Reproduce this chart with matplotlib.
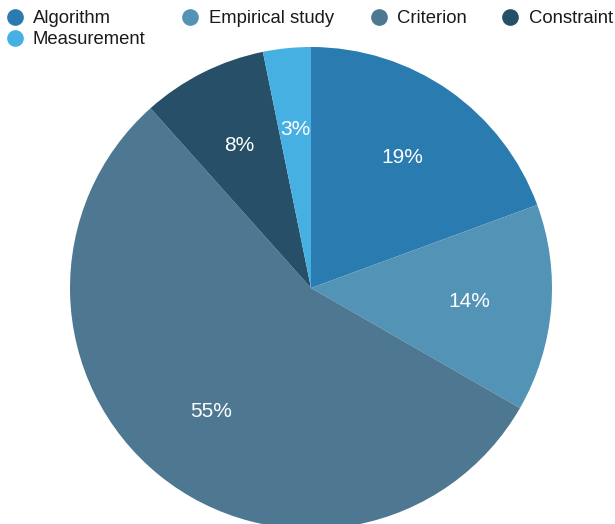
import matplotlib
matplotlib.use("Agg")
import matplotlib.pyplot as plt
from matplotlib.lines import Line2D

categories = ["Algorithm", "Empirical study", "Criterion", "Constraint", "Measurement"]
values = [19.4, 13.9, 55.1, 8.4, 3.2]
colors = ["#2a7bb0", "#5393b5", "#4e7891", "#275068", "#47b0e3"]

plt.rcParams['font.family'] = ['Liberation Sans', 'DejaVu Sans']

W, H = 615, 524
fig = plt.figure(figsize=(W/100, H/100), dpi=100)

cx, cy, r = 311, 288, 241
ax = fig.add_axes([(cx - r)/W, (H - cy - r)/H, 2*r/W, 2*r/H])
wedges, texts, autotexts = ax.pie(values, colors=colors, startangle=90, counterclock=False,
                                  autopct='%.0f%%', pctdistance=0.66,
                                  wedgeprops=dict(linewidth=0),
                                  textprops=dict(color='white', fontsize=15))
ax.set_aspect('equal')
ax.set_xlim(-1, 1)
ax.set_ylim(-1, 1)
ax.axis('off')

# legend drawn manually
legend_pos = [(14.5, 16.5), (190, 16.5), (379, 16.5), (510, 16.5), (14.5, 38)]
for (px, py), lab, col in zip(legend_pos, categories, colors):
    fig.add_artist(Line2D([px/W], [1 - py/H], marker='o', markersize=11,
                          color=col, linestyle='none', transform=fig.transFigure))
    fig.text((px + 18.5)/W, 1 - (py + 6)/H, lab, fontsize=13.3, color='#1a1a1a',
             va='baseline', ha='left')

fig.savefig("out.png", dpi=100)
